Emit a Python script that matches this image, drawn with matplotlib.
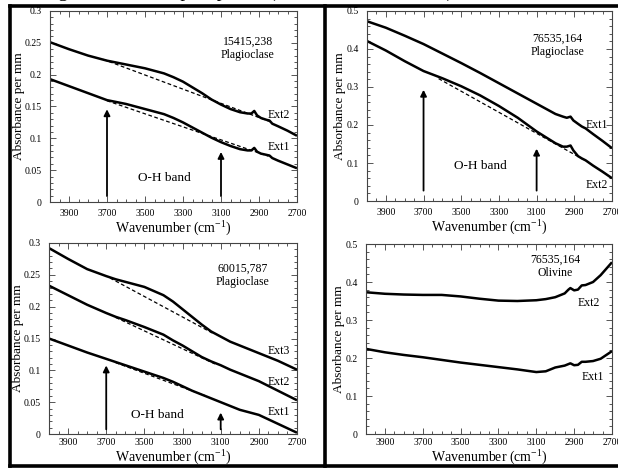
import matplotlib
matplotlib.use("Agg")
import matplotlib.pyplot as plt
from matplotlib.lines import Line2D
from matplotlib.ticker import MultipleLocator, FuncFormatter

plt.rcParams['font.family'] = ['Liberation Serif', 'DejaVu Serif']
plt.rcParams['mathtext.fontset'] = 'custom'
plt.rcParams['mathtext.rm'] = 'Liberation Serif'

# ---- panel 1: 15415,238 plagioclase
wn1 = [4000, 3900, 3800, 3700, 3650, 3600, 3500, 3400, 3350, 3300, 3250, 3200, 3150, 3100, 3050, 3000,
       2960, 2940, 2925, 2910, 2890, 2860, 2845, 2830, 2800, 2750, 2700]
p1_ext2 = [0.251, 0.240, 0.230, 0.222, 0.219, 0.216, 0.210, 0.202, 0.196, 0.189, 0.180, 0.171, 0.161, 0.153,
           0.146, 0.141, 0.139, 0.139, 0.143, 0.136, 0.132, 0.129, 0.128, 0.123, 0.119, 0.112, 0.104]
p1_ext1 = [0.193, 0.182, 0.171, 0.160, 0.157, 0.154, 0.146, 0.138, 0.132, 0.125, 0.117, 0.109, 0.101, 0.094,
           0.088, 0.083, 0.081, 0.081, 0.085, 0.079, 0.076, 0.074, 0.073, 0.069, 0.065, 0.059, 0.053]
p1_base_x = [[3720, 2840], [3700, 2850]]
p1_base_y = [[0.224, 0.126], [0.159, 0.072]]

# ---- panel 2: 76535,164 plagioclase
wn2 = [4000, 3900, 3800, 3700, 3600, 3500, 3400, 3300, 3200, 3100, 3000,
       2960, 2940, 2920, 2905, 2880, 2860, 2840, 2800, 2750, 2700]
p2_ext1 = [0.473, 0.456, 0.435, 0.413, 0.388, 0.363, 0.337, 0.310, 0.283, 0.256, 0.229,
           0.222, 0.219, 0.222, 0.212, 0.203, 0.196, 0.191, 0.176, 0.158, 0.139]
p2_ext2 = [0.421, 0.396, 0.368, 0.342, 0.323, 0.302, 0.278, 0.250, 0.219, 0.183, 0.152,
           0.143, 0.143, 0.146, 0.133, 0.118, 0.112, 0.107, 0.093, 0.077, 0.060]
p2_base_x = [[3620, 2840]]
p2_base_y = [[0.322, 0.106]]

# ---- panel 3: 60015,787 plagioclase
wn3 = [4000, 3900, 3800, 3700, 3650, 3600, 3500, 3400, 3350, 3300, 3250, 3200, 3150, 3100, 3050, 3000, 2900, 2800, 2700]
p3_ext3 = [0.292, 0.275, 0.259, 0.248, 0.243, 0.239, 0.231, 0.218, 0.208, 0.196, 0.184, 0.172, 0.161, 0.153,
           0.145, 0.139, 0.127, 0.115, 0.101]
p3_ext2 = [0.233, 0.218, 0.203, 0.190, 0.184, 0.179, 0.168, 0.156, 0.147, 0.139, 0.130, 0.121, 0.114, 0.108,
           0.101, 0.095, 0.083, 0.068, 0.053]
p3_ext1 = [0.150, 0.139, 0.128, 0.118, 0.113, 0.108, 0.098, 0.088, 0.082, 0.075, 0.068, 0.062, 0.056, 0.050,
           0.044, 0.038, 0.030, 0.016, 0.002]
p3_base_x = [[3680, 3140], [3650, 3130], [3650, 3180]]
p3_base_y = [[0.245, 0.158], [0.183, 0.110], [0.112, 0.060]]

# ---- panel 4: 76535,164 olivine
wn4 = [4000, 3900, 3800, 3700, 3600, 3500, 3400, 3300, 3200, 3100, 3050, 3000,
       2950, 2930, 2920, 2900, 2880, 2860, 2840, 2800, 2760, 2700]
p4_ext2 = [0.373, 0.369, 0.367, 0.366, 0.366, 0.362, 0.356, 0.351, 0.350, 0.352, 0.355, 0.360,
           0.370, 0.380, 0.384, 0.378, 0.380, 0.391, 0.392, 0.400, 0.418, 0.452]
p4_ext1 = [0.224, 0.215, 0.208, 0.202, 0.195, 0.188, 0.182, 0.176, 0.170, 0.163, 0.165, 0.175,
           0.180, 0.184, 0.186, 0.181, 0.182, 0.190, 0.190, 0.192, 0.198, 0.218]

fig = plt.figure(figsize=(6.18, 4.69), dpi=100)
W, H = 618.0, 469.0


def box(l, r, t, b):
    return [l / W, 1 - b / H, (r - l) / W, (b - t) / H]


def style(ax, ymax, ymaj, ymin, xpad=5):
    ax.set_xlim(4000, 2700)
    ax.set_ylim(0, ymax)
    ax.xaxis.set_minor_locator(MultipleLocator(50))
    ax.set_xticks([3900, 3700, 3500, 3300, 3100, 2900, 2700])
    ax.yaxis.set_major_locator(MultipleLocator(ymaj))
    ax.yaxis.set_minor_locator(MultipleLocator(ymin))
    ax.yaxis.set_major_formatter(FuncFormatter(lambda v, p: '%g' % round(v, 3)))
    ax.tick_params(which='both', direction='in', top=True, right=True,
                   colors='#555555', labelcolor='black', labelsize=7, width=0.7)
    ax.tick_params(which='major', length=4)
    ax.tick_params(axis='x', which='major', pad=xpad)
    ax.tick_params(axis='y', which='major', pad=6)
    ax.tick_params(which='minor', length=2.5)
    for s in ax.spines.values():
        s.set_linewidth(0.8)
        s.set_color('#444444')
    ax.set_xlabel('Wavenumber (cm$^{\\mathregular{-1}}$)', fontsize=10, labelpad=0)
    ax.set_ylabel('Absorbance per mm', fontsize=9.5, labelpad=0)


def curves(ax, wn, series, bx, by):
    for s in series:
        ax.plot(wn, s, color='black', lw=1.8, solid_capstyle='butt')
    for x, y in zip(bx, by):
        ax.plot(x, y, color='black', lw=0.9, ls=(0, (3, 2)))


def arrow(ax, x, y0, y1):
    ax.annotate('', xy=(x, y1), xytext=(x, y0),
                arrowprops=dict(arrowstyle='-|>', color='black', lw=1.3, mutation_scale=9))


ax1 = fig.add_axes(box(50, 297, 11, 202))
style(ax1, 0.3, 0.05, 0.01)
curves(ax1, wn1, [p1_ext2, p1_ext1], p1_base_x, p1_base_y)
arrow(ax1, 3700, 0.005, 0.150)
arrow(ax1, 3100, 0.005, 0.083)
ax1.text(2960, 0.242, '15415,238\nPlagioclase', ha='center', va='center', fontsize=8.5, linespacing=1.15)
ax1.text(2855, 0.136, 'Ext2', fontsize=8.5, va='center')
ax1.text(2855, 0.087, 'Ext1', fontsize=8.5, va='center')
ax1.text(3400, 0.038, 'O-H band', ha='center', va='center', fontsize=9.5)

ax2 = fig.add_axes(box(367, 612, 11, 201))
style(ax2, 0.5, 0.1, 0.02)
curves(ax2, wn2, [p2_ext1, p2_ext2], p2_base_x, p2_base_y)
arrow(ax2, 3700, 0.02, 0.30)
arrow(ax2, 3100, 0.02, 0.145)
ax2.text(2990, 0.41, '76535,164\nPlagioclase', ha='center', va='center', fontsize=8.5, linespacing=1.15)
ax2.text(2840, 0.200, 'Ext1', fontsize=8.5, va='center')
ax2.text(2840, 0.043, 'Ext2', fontsize=8.5, va='center')
ax2.text(3400, 0.092, 'O-H band', ha='center', va='center', fontsize=9.5)

ax3 = fig.add_axes(box(49, 297, 243, 434))
style(ax3, 0.3, 0.05, 0.01, xpad=3)
curves(ax3, wn3, [p3_ext3, p3_ext2, p3_ext1], p3_base_x, p3_base_y)
arrow(ax3, 3700, 0.003, 0.112)
arrow(ax3, 3100, 0.003, 0.038)
ax3.text(2985, 0.249, '60015,787\nPlagioclase', ha='center', va='center', fontsize=8.5, linespacing=1.15)
ax3.text(2855, 0.130, 'Ext3', fontsize=8.5, va='center')
ax3.text(2855, 0.082, 'Ext2', fontsize=8.5, va='center')
ax3.text(2855, 0.035, 'Ext1', fontsize=8.5, va='center')
ax3.text(3430, 0.030, 'O-H band', ha='center', va='center', fontsize=9.5)

ax4 = fig.add_axes(box(366, 612, 244, 434))
style(ax4, 0.5, 0.1, 0.02, xpad=3)
curves(ax4, wn4, [p4_ext2, p4_ext1], [], [])
ax4.text(3000, 0.44, '76535,164\nOlivine', ha='center', va='center', fontsize=8.5, linespacing=1.15)
ax4.text(2880, 0.345, 'Ext2', fontsize=8.5, va='center')
ax4.text(2860, 0.150, 'Ext1', fontsize=8.5, va='center')

# table frame around the four panels (behind the texts)
frame = dict(color='black', lw=2.6, solid_capstyle='projecting', zorder=-1)
fig.add_artist(Line2D([10 / W, 10 / W], [1 - 6 / H, 1 - 466 / H], **frame))
fig.add_artist(Line2D([325 / W, 325 / W], [1 - 6 / H, 1 - 466 / H], **frame))
fig.add_artist(Line2D([10 / W, 1], [1 - 6 / H, 1 - 6 / H], **frame))
fig.add_artist(Line2D([10 / W, 1], [1 - 466 / H, 1 - 466 / H], **frame))

# caption line cut off by the top edge (only the lowest strokes show)
fig.text(42 / W, 1 + 3 / H, 'Fig. 2. Lunar sample spectra (see Table 1 for details).',
         fontsize=14, va='baseline', ha='left')

fig.savefig('out.png', dpi=100)
